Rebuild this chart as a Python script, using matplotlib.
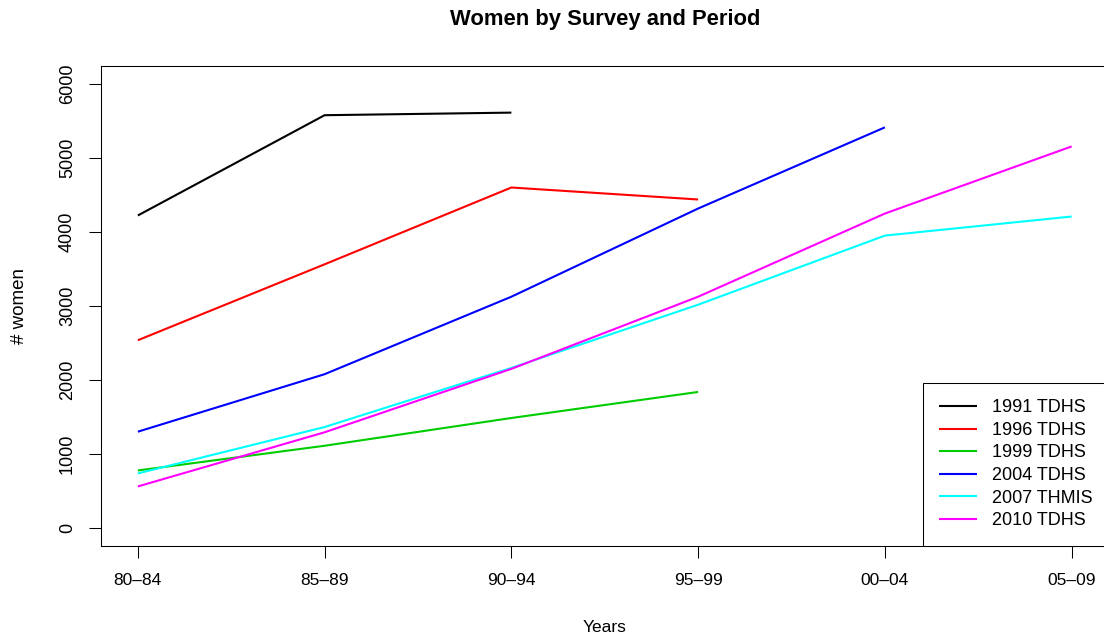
import numpy as np
import matplotlib
matplotlib.use("Agg")
import matplotlib.pyplot as plt

# Five-year periods and number of women per survey (NaN = period not covered)
periods = ["80\u201384", "85\u201389", "90\u201394", "95\u201399", "00\u201304", "05\u201309"]
surveys = ["1991 TDHS", "1996 TDHS", "1999 TDHS", "2004 TDHS", "2007 THMIS", "2010 TDHS"]
s1991 = [4220, 5575, 5610, np.nan, np.nan, np.nan]
s1996 = [2534, 3560, 4598, 4436, np.nan, np.nan]
s1999 = [774, 1108, 1483, 1835, np.nan, np.nan]
s2004 = [1298, 2075, 3122, 4314, 5411, np.nan]
s2007 = [734, 1361, 2160, 3014, 3948, 4206]
s2010 = [558, 1290, 2147, 3122, 4246, 5153]
yticks = [0, 1000, 2000, 3000, 4000, 5000, 6000]

series = [s1991, s1996, s1999, s2004, s2007, s2010]
colors = ["#000000", "#FF0000", "#00CD00", "#0000FF", "#00FFFF", "#FF00FF"]

W, H = 1104, 639
fig = plt.figure(figsize=(W / 100, H / 100), dpi=100)
left, right, top, bottom = 100.5, 1109.0, 66.0, 545.5
ax = fig.add_axes([left / W, 1 - bottom / H, (right - left) / W, (bottom - top) / H])

x = np.arange(1, len(periods) + 1)
for vals, c, lab in zip(series, colors, surveys):
    ax.plot(x, vals, color=c, lw=1.5, label=lab, solid_capstyle="butt")

narrow = ["Liberation Sans Narrow", "Liberation Sans"]
ax.set_xlim(0.8, 6.2)
ax.set_ylim(-240, 6240)
ax.set_xticks(x)
ax.set_xticklabels(periods, family=narrow, fontsize=12.5)
ax.set_yticks(yticks)
ax.set_yticklabels([str(v) for v in yticks], family="Liberation Sans", fontsize=13,
                   rotation=90, va="center")
ax.tick_params(axis="x", length=8.6, width=0.75, pad=11)
ax.tick_params(axis="y", length=8.6, width=0.75, pad=9)
for sp in ax.spines.values():
    sp.set_linewidth(0.75)

fig.text((left + right) / 2 / W, 1 - 19 / H, "Women by Survey and Period",
         ha="center", va="center", family="Liberation Sans", fontweight="bold", fontsize=15.8)
ax.set_xlabel("Years", family=narrow, fontsize=12.5)
ax.xaxis.set_label_coords(0.5, (bottom - 627) / (bottom - top))
ax.xaxis.label.set_va("center")
ax.set_ylabel("# women", family="Liberation Sans", fontsize=13.5)
ax.yaxis.set_label_coords((20 - left) / (right - left), 0.5)
ax.yaxis.label.set_va("center")
ax.yaxis.label.set_ha("center")

leg = ax.legend(loc="lower right", bbox_to_anchor=(1, 0), borderaxespad=0,
                fancybox=False, framealpha=1, edgecolor="black",
                prop={"family": "Liberation Sans", "size": 13},
                handlelength=2.1, handletextpad=0.85, labelspacing=0.31,
                borderpad=0.9)
leg.get_frame().set_linewidth(0.75)

fig.savefig("out.png", dpi=100)
